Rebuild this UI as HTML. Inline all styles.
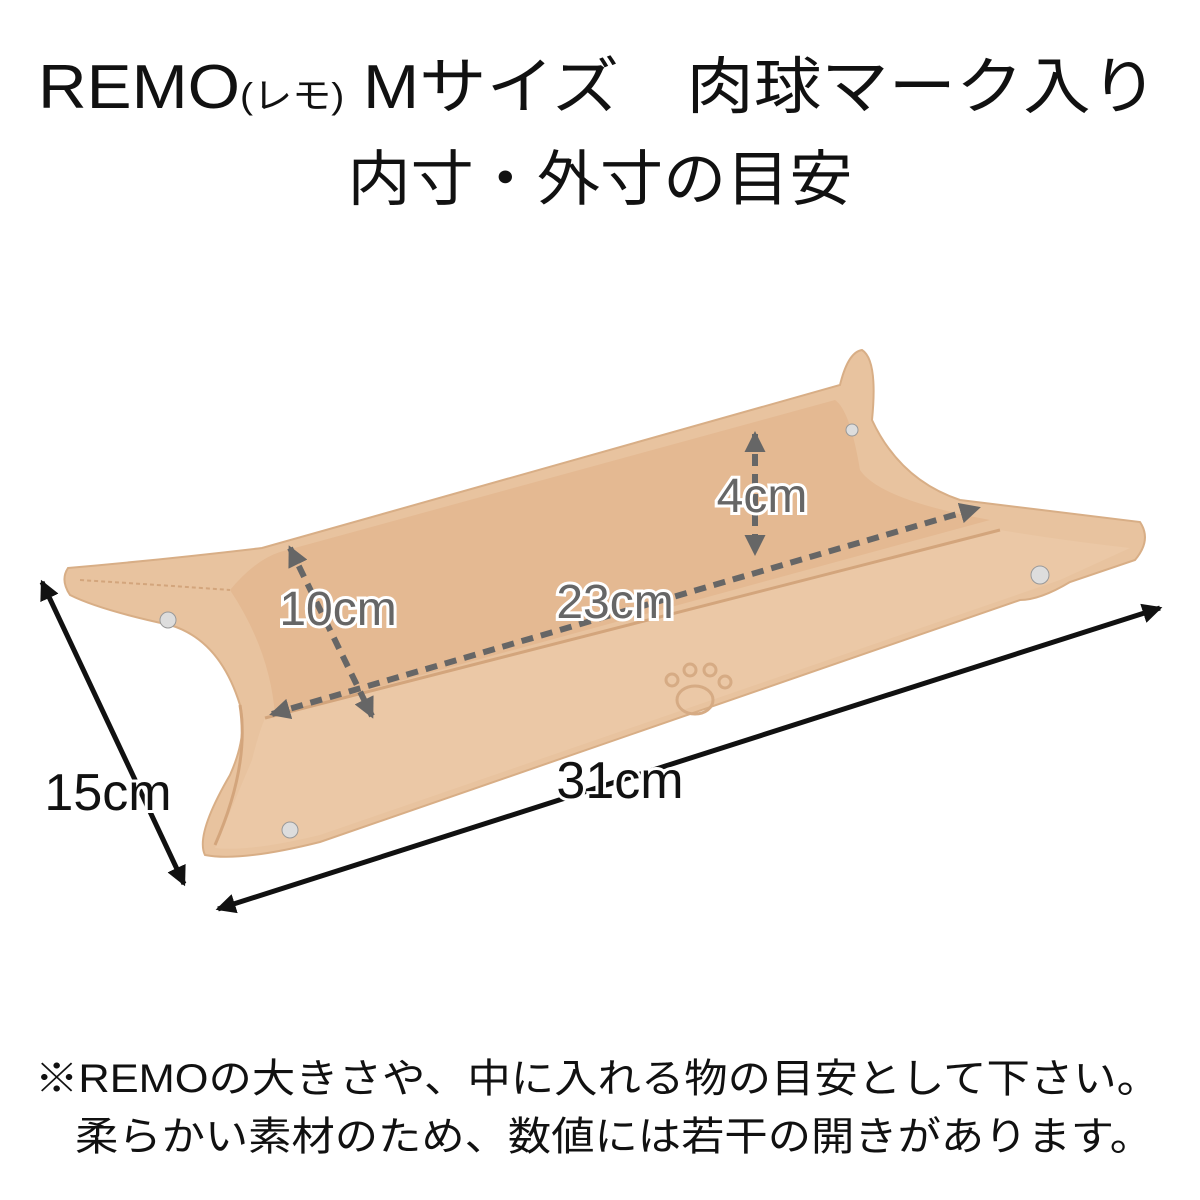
<!DOCTYPE html>
<html><head><meta charset="utf-8"><style>
html,body{margin:0;padding:0;background:#fff}
svg{display:block}
text{font-family:"Liberation Sans","Noto Sans CJK JP",sans-serif}
</style></head><body>
<svg width="1200" height="1200" viewBox="0 0 1200 1200" xmlns="http://www.w3.org/2000/svg">
<defs>
<marker id="ab" markerWidth="4" markerHeight="4" refX="3.5" refY="2" orient="auto-start-reverse" markerUnits="strokeWidth"><path d="M0,0 L4,2 L0,4 z" fill="#111"/></marker>
<marker id="ag" markerWidth="3.5" markerHeight="3.5" refX="3" refY="1.75" orient="auto-start-reverse" markerUnits="strokeWidth"><path d="M0,0 L3.5,1.75 L0,3.5 z" fill="#666"/></marker>
</defs>
<text x="598" y="108" font-size="62" text-anchor="middle" fill="#111" textLength="1120" lengthAdjust="spacingAndGlyphs">REMO<tspan font-size="36">(レモ)</tspan> Mサイズ　肉球マーク入り</text>
<text x="600" y="200" font-size="60" text-anchor="middle" fill="#111" textLength="505" lengthAdjust="spacingAndGlyphs">内寸・外寸の目安</text>

<path d="M68,568 Q160,560 262,548 L840,385 Q848,352 862,350 Q878,360 872,420 Q900,480 960,500 L1140,522 Q1152,540 1135,560 L1070,582 Q1040,600 1020,600 L320,842 Q240,862 205,855 Q195,835 230,775 Q248,735 240,705 Q220,640 170,625 Q100,610 70,595 Q60,580 68,568 z" fill="#e8c39f" stroke="#d8ae86" stroke-width="2"/>
<path d="M280,552 L835,400 Q850,410 860,470 Q880,500 990,520 L275,715 Q270,650 230,590 Q255,560 280,552 z" fill="#e4b992"/>
<path d="M265,718 L1000,530 Q1060,540 1130,548 L1060,580 L320,835 Q250,852 215,848 Q235,800 252,760 Q258,735 265,718 z" fill="#ebc8a6"/>
<path d="M265,718 L1000,530" stroke="#d3a57c" stroke-width="3" fill="none"/>
<path d="M240,705 Q250,765 215,845" stroke="#d3a57c" stroke-width="3" fill="none"/>
<path d="M80,580 Q160,585 230,590" stroke="#d3a57c" stroke-width="2" fill="none" stroke-dasharray="4 3"/>
<circle cx="168" cy="620" r="8" fill="#ddd" stroke="#999"/>
<circle cx="1040" cy="575" r="9" fill="#ddd" stroke="#999"/>
<circle cx="290" cy="830" r="8" fill="#ddd" stroke="#999"/>
<circle cx="852" cy="430" r="6" fill="#ddd" stroke="#999"/>
<g fill="none" stroke="#d6ab84" stroke-width="3"><ellipse cx="695" cy="700" rx="18" ry="14"/><circle cx="672" cy="680" r="6"/><circle cx="690" cy="670" r="6"/><circle cx="710" cy="670" r="6"/><circle cx="725" cy="682" r="6"/></g>

<g stroke="#666" stroke-width="6" stroke-dasharray="12 8" fill="none">
<line x1="290" y1="548" x2="372" y2="716" marker-end="url(#ag)" marker-start="url(#ag)"/>
<line x1="272" y1="714" x2="978" y2="508" marker-end="url(#ag)" marker-start="url(#ag)"/>
<line x1="755" y1="434" x2="755" y2="553" marker-end="url(#ag)" marker-start="url(#ag)"/>
</g>
<g font-size="48" fill="#666" stroke="#fff" stroke-width="6" paint-order="stroke" text-anchor="middle">
<text x="762" y="512">4cm</text>
<text x="338" y="625">10cm</text>
<text x="615" y="618">23cm</text>
</g>
<g stroke="#111" stroke-width="5" fill="none">
<line x1="42" y1="582" x2="184" y2="884" marker-end="url(#ab)" marker-start="url(#ab)"/>
<line x1="218" y1="909" x2="1160" y2="608" marker-end="url(#ab)" marker-start="url(#ab)"/>
</g>
<g font-size="52" fill="#111" stroke="#fff" stroke-width="6" paint-order="stroke" text-anchor="middle">
<text x="108" y="810">15cm</text>
<text x="620" y="798">31cm</text>
</g>

<text x="35" y="1092" font-size="40" fill="#111" textLength="1125" lengthAdjust="spacingAndGlyphs">※REMOの大きさや、中に入れる物の目安として下さい。</text>
<text x="75" y="1150" font-size="40" fill="#111" textLength="1078" lengthAdjust="spacingAndGlyphs">柔らかい素材のため、数値には若干の開きがあります。</text>
</svg>
</body></html>
